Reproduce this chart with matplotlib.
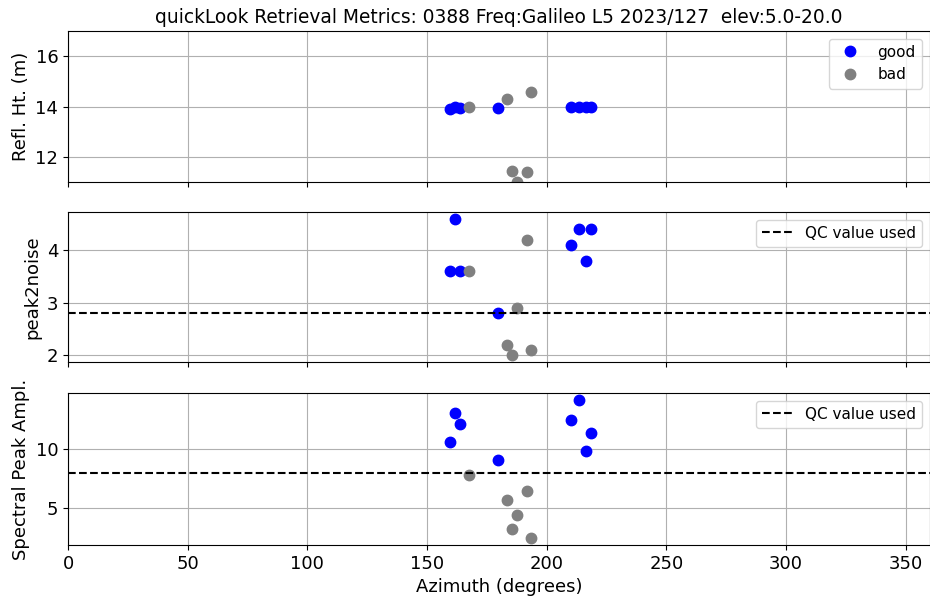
import matplotlib
matplotlib.use('Agg')
import matplotlib.pyplot as plt
import numpy as np

# retrievals that passed QC
good_az = [159.6, 161.7, 163.6, 179.6, 210.4, 213.5, 216.5, 218.5]
good_rh = [13.91, 14.0, 13.95, 13.96, 14.0, 14.0, 14.0, 14.0]
good_p2n = [3.6, 4.6, 3.6, 2.8, 4.1, 4.4, 3.8, 4.4]
good_amp = [10.6, 13.1, 12.2, 9.1, 12.5, 14.25, 9.9, 11.4]

# retrievals that failed QC
bad_az = [167.6, 183.6, 185.7, 187.6, 191.7, 193.6]
bad_rh = [14.0, 14.31, 11.44, 11.01, 11.4, 14.56]
bad_p2n = [3.6, 2.2, 2.0, 2.9, 4.2, 2.1]
bad_amp = [7.8, 5.7, 3.2, 4.4, 6.4, 2.4]

pk_noise_qc = 2.8
amp_qc = 8.0
rh_median = 14.0

plt.rcParams['font.size'] = 13

fig = plt.figure(figsize=(9.30, 6.02), dpi=100)
left = 68 / 930
width = (929.5 - 68) / 930
ax1 = fig.add_axes([left, 1 - 182 / 602, width, 151 / 602])
ax2 = fig.add_axes([left, 1 - 362 / 602, width, 150 / 602], sharex=ax1)
ax3 = fig.add_axes([left, 1 - 545 / 602, width, 152 / 602], sharex=ax1)

ms = 7.5
ax1.plot(good_az, good_rh, 'o', color='blue', ms=ms, label='good')
ax1.plot(bad_az, bad_rh, 'o', color='gray', ms=ms, label='bad')
ax1.set_ylim(rh_median - 3, rh_median + 3)
ax1.set_ylabel('Refl. Ht. (m)')
ax1.legend(loc='upper right', fontsize=11)
ax1.set_title('quickLook Retrieval Metrics: 0388 Freq:Galileo L5 2023/127  elev:5.0-20.0',
              fontsize=13.4)

ax2.plot(good_az, good_p2n, 'o', color='blue', ms=ms)
ax2.plot(bad_az, bad_p2n, 'o', color='gray', ms=ms)
ax2.axhline(pk_noise_qc, color='k', ls='--', lw=1.5, label='QC value used')
ax2.set_ylabel('peak2noise')
ax2.legend(loc='upper right', fontsize=11)

ax3.plot(good_az, good_amp, 'o', color='blue', ms=ms)
ax3.plot(bad_az, bad_amp, 'o', color='gray', ms=ms)
ax3.axhline(amp_qc, color='k', ls='--', lw=1.5, label='QC value used')
ax3.set_ylabel('Spectral Peak Ampl.')
ax3.set_xlabel('Azimuth (degrees)')
ax3.legend(loc='upper right', fontsize=11)

for ax in (ax1, ax2, ax3):
    ax.grid(True, color='#b0b0b0')
    ax.set_xlim(0, 360)
ax1.tick_params(labelbottom=False)
ax2.tick_params(labelbottom=False)
ax3.set_xticks(np.arange(0, 360, 50))

fig.savefig('out.png', dpi=100)
